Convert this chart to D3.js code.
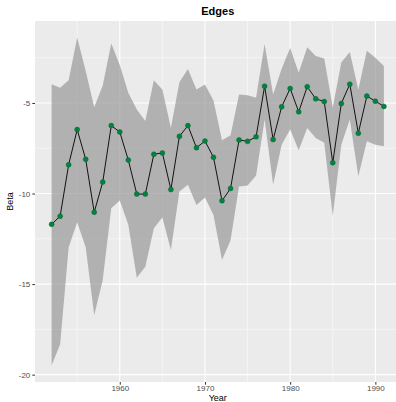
<!DOCTYPE html>
<html>
<head>
<meta charset="utf-8">
<script src="https://cdn.jsdelivr.net/npm/d3@7"></script>
<style>
  body { margin: 0; background: #fff; }
  svg { display: block; font-family: "Liberation Sans", Arial, sans-serif; }
</style>
</head>
<body>
<svg id="chart" width="396" height="402"></svg>
<script>
// years 1952..1991
const years = d3.range(1952, 1992);
const beta = [
  -11.70, -11.25, -8.41, -6.47, -8.11, -11.03, -9.37, -6.25, -6.60, -8.15,
  -10.03, -10.03, -7.83, -7.76, -9.78, -6.84, -6.25, -7.47, -7.10, -8.00,
  -10.40, -9.72, -7.04, -7.12, -6.87, -4.07, -7.02, -5.21, -4.20, -5.49,
  -4.10, -4.77, -4.92, -8.30, -5.03, -3.96, -6.67, -4.62, -4.90, -5.19
];
const upper = [
  -3.96, -4.16, -3.75, -1.38, -3.24, -5.23, -4.03, -1.72, -2.91, -4.43,
  -5.36, -6.00, -3.75, -4.25, -6.38, -3.85, -3.13, -4.25, -3.98, -4.86,
  -7.06, -6.78, -4.53, -4.58, -4.71, -1.74, -4.53, -3.11, -1.96, -3.33,
  -1.92, -2.41, -2.55, -5.25, -2.77, -2.19, -4.27, -2.11, -2.50, -2.96
];
const lower = [
  -19.50, -18.32, -12.97, -11.58, -12.97, -16.72, -14.78, -10.81, -10.38, -11.73,
  -14.65, -14.04, -11.92, -11.33, -13.12, -9.89, -9.52, -10.63, -10.22, -11.18,
  -13.67, -12.60, -9.61, -9.55, -9.00, -5.91, -9.52, -7.30, -6.47, -7.61,
  -6.38, -6.93, -7.20, -11.23, -7.30, -5.91, -9.05, -7.12, -7.30, -7.39
];
const xTicks = [1960, 1970, 1980, 1990];
const xMinor = [1955, 1965, 1975, 1985];
const yTicks = [-5, -10, -15, -20];
const yMinor = [-2.5, -7.5, -12.5, -17.5];

const rows = years.map((yr, i) => ({ year: yr, beta: beta[i], lo: lower[i], hi: upper[i] }));

const svg = d3.select("#chart");
const panel = { left: 35, top: 21, right: 400.5, bottom: 382 };

// ggplot style 5% expansion
const xr = d3.extent(years), xPad = (xr[1] - xr[0]) * 0.05;
const yMin = d3.min(lower), yMax = d3.max(upper), yPad = (yMax - yMin) * 0.05;

const x = d3.scaleLinear().domain([xr[0] - xPad, xr[1] + xPad]).range([panel.left, panel.right]);
const y = d3.scaleLinear().domain([yMin - yPad, yMax + yPad]).range([panel.bottom, panel.top]);

// panel background
svg.append("rect")
  .attr("x", panel.left).attr("y", panel.top)
  .attr("width", panel.right - panel.left).attr("height", panel.bottom - panel.top)
  .attr("fill", "#EBEBEB");

const grid = svg.append("g");
xMinor.forEach(v => grid.append("line")
  .attr("x1", x(v)).attr("x2", x(v)).attr("y1", panel.top).attr("y2", panel.bottom)
  .attr("stroke", "#fff").attr("stroke-width", 0.5));
yMinor.forEach(v => grid.append("line")
  .attr("x1", panel.left).attr("x2", panel.right).attr("y1", y(v)).attr("y2", y(v))
  .attr("stroke", "#fff").attr("stroke-width", 0.5));
xTicks.forEach(v => grid.append("line")
  .attr("x1", x(v)).attr("x2", x(v)).attr("y1", panel.top).attr("y2", panel.bottom)
  .attr("stroke", "#fff").attr("stroke-width", 1.1));
yTicks.forEach(v => grid.append("line")
  .attr("x1", panel.left).attr("x2", panel.right).attr("y1", y(v)).attr("y2", y(v))
  .attr("stroke", "#fff").attr("stroke-width", 1.1));

// ribbon
const area = d3.area()
  .x(d => x(d.year))
  .y0(d => y(d.lo))
  .y1(d => y(d.hi));
svg.append("path").datum(rows)
  .attr("d", area)
  .attr("fill", "#999999")
  .attr("fill-opacity", 0.7);

// line
const line = d3.line().x(d => x(d.year)).y(d => y(d.beta));
svg.append("path").datum(rows)
  .attr("d", line)
  .attr("fill", "none")
  .attr("stroke", "#000")
  .attr("stroke-width", 0.9);

// points
svg.append("g").selectAll("circle").data(rows).join("circle")
  .attr("cx", d => x(d.year)).attr("cy", d => y(d.beta))
  .attr("r", 2.5)
  .attr("fill", "#00843F")
  .attr("stroke", "#0a5a30")
  .attr("stroke-width", 0.4);

// axes
const xAxis = d3.axisBottom(x).tickValues(xTicks).tickSize(2.7).tickPadding(1).tickFormat(d3.format("d"));
const gx = svg.append("g").attr("transform", `translate(0,${panel.bottom})`).call(xAxis);
gx.select(".domain").remove();
gx.selectAll("line").attr("stroke", "#333").attr("stroke-width", 1);
gx.selectAll("text").attr("fill", "#4D4D4D").attr("font-size", 8).attr("font-family", "Liberation Sans, Arial, sans-serif");

const yAxis = d3.axisLeft(y).tickValues(yTicks).tickSize(2.7).tickPadding(2).tickFormat(d => d3.format("d")(d).replace("−", "-"));
const gy = svg.append("g").attr("transform", `translate(${panel.left},0)`).call(yAxis);
gy.select(".domain").remove();
gy.selectAll("line").attr("stroke", "#333").attr("stroke-width", 1);
gy.selectAll("text").attr("fill", "#4D4D4D").attr("font-size", 8).attr("font-family", "Liberation Sans, Arial, sans-serif");

// titles
svg.append("text")
  .attr("x", (panel.left + panel.right) / 2).attr("y", 15)
  .attr("text-anchor", "middle")
  .attr("font-size", 11).attr("font-weight", "bold")
  .text("Edges");

svg.append("text")
  .attr("x", (panel.left + panel.right) / 2).attr("y", 400.5)
  .attr("text-anchor", "middle")
  .attr("font-size", 9)
  .text("Year");

svg.append("text")
  .attr("transform", `translate(13,${(panel.top + panel.bottom) / 2}) rotate(-90)`)
  .attr("text-anchor", "middle")
  .attr("font-size", 9)
  .text("Beta");
</script>
</body>
</html>
